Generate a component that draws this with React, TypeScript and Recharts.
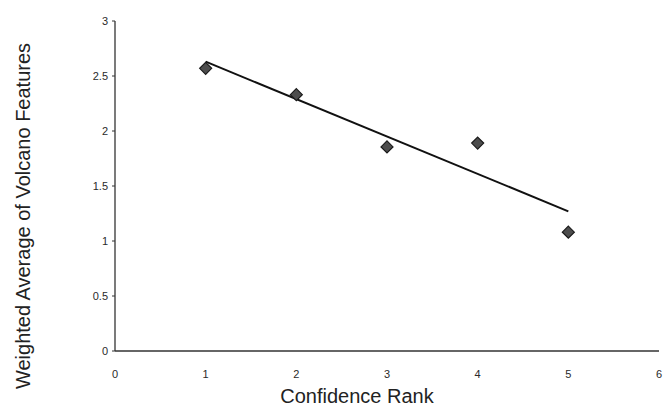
import { Label, Scatter, ScatterChart, XAxis, YAxis } from 'recharts';

// confidence rank vs weighted average of volcano features
const ranks = [1, 2, 3, 4, 5];
const weightedAvg = [2.57, 2.33, 1.855, 1.89, 1.08];

// linear trend line end points
const trendRanks = [1, 5];
const trendValues = [2.63, 1.27];

const xTicks = [0, 1, 2, 3, 4, 5, 6];
const yTicks = [0, 0.5, 1, 1.5, 2, 2.5, 3];

const points = ranks.map((r, i) => ({ rank: r, value: weightedAvg[i] }));
const trend = trendRanks.map((r, i) => ({ rank: r, value: trendValues[i] }));

const FONT = '"Liberation Sans", Arial, sans-serif';
const tickStyle = { fontSize: 11, fill: '#2a2a2a', fontFamily: FONT };

const Diamond = (props: any) => {
  const { cx, cy } = props;
  if (cx == null || cy == null) return <g />;
  const r = 6;
  return (
    <polygon
      points={`${cx},${cy - r} ${cx + r},${cy} ${cx},${cy + r} ${cx - r},${cy}`}
      fill="#4d4d4d"
      stroke="#1a1a1a"
      strokeWidth={1.2}
    />
  );
};

const YTitle = (props: any) => {
  const vb = props.viewBox || { x: 0, y: 0, width: 0, height: 0 };
  const x = vb.x + 30;
  const y = vb.y + vb.height / 2 + 30;
  return (
    <text
      x={x}
      y={y}
      transform={`rotate(-90, ${x}, ${y})`}
      textAnchor="middle"
      fontSize={20}
      fill="#222"
      fontFamily={FONT}
    >
      Weighted Average of Volcano Features
    </text>
  );
};

export default function App() {
  return (
    <div style={{ position: 'absolute', left: 0, top: 0, background: '#fff' }}>
      <ScatterChart
        width={663}
        height={406}
        margin={{ top: 21, right: 4, bottom: 0, left: 0 }}
        style={{ fontFamily: FONT }}
      >
        <XAxis
          type="number"
          dataKey="rank"
          domain={[0, 6]}
          ticks={xTicks}
          height={55}
          tick={tickStyle}
          tickLine={false}
          tickMargin={13}
          axisLine={{ stroke: '#333', strokeWidth: 1.3 }}
        >
          <Label
            value="Confidence Rank"
            position="insideBottom"
            offset={3}
            dx={-30}
            fontSize={20}
            fill="#222"
            fontFamily={FONT}
          />
        </XAxis>
        <YAxis
          type="number"
          dataKey="value"
          domain={[0, 3]}
          ticks={yTicks}
          width={115}
          tick={tickStyle}
          tickSize={3}
          tickMargin={4}
          tickLine={{ stroke: '#333' }}
          axisLine={{ stroke: '#333', strokeWidth: 1.3 }}
          label={<YTitle />}
        />
        <Scatter
          data={trend}
          line={{ stroke: '#111', strokeWidth: 2 }}
          shape={() => <g />}
          isAnimationActive={false}
        />
        <Scatter data={points} shape={Diamond} isAnimationActive={false} />
      </ScatterChart>
    </div>
  );
}
